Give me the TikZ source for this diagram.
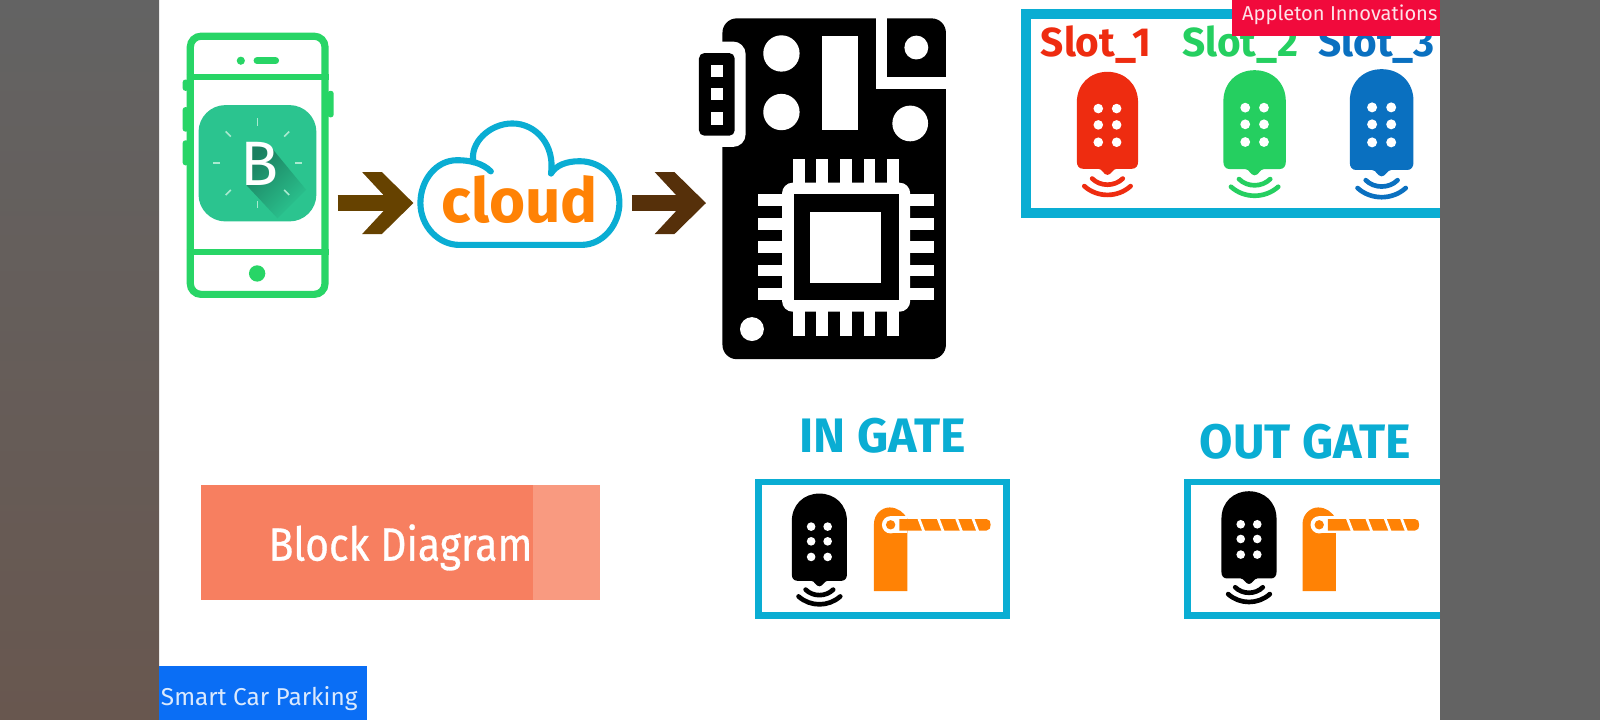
\documentclass[tikz,border=0pt]{standalone}
\usepackage{fontspec}
\setmainfont{Fira Sans}
\newfontfamily\blockfont[FakeStretch=0.875,FakeBold=0.6]{Fira Sans}
\usetikzlibrary{positioning}
\newcommand{\un}{0.02cm}
\definecolor{sidegray}{HTML}{636363}
\definecolor{sidemid}{HTML}{646160}
\definecolor{sidebrown}{HTML}{68574F}
\definecolor{phonegreen}{HTML}{28D566}
\definecolor{icongreen}{HTML}{2BC48F}
\definecolor{shadegreen}{HTML}{1B7F60}
\definecolor{raygreen}{HTML}{A9EAD0}
\definecolor{skyblue}{HTML}{0AADD3}
\definecolor{gateorange}{HTML}{FF8205}
\definecolor{arrowone}{HTML}{664200}
\definecolor{arrowtwo}{HTML}{56300A}
\definecolor{slotred}{HTML}{EE2C10}
\definecolor{slotgreen}{HTML}{25CF60}
\definecolor{slotblue}{HTML}{0A70C0}
\definecolor{labelred}{HTML}{F10A3C}
\definecolor{labelblue}{HTML}{0A6EF5}
\definecolor{blockdark}{HTML}{F77F60}
\definecolor{blocklight}{HTML}{F99A80}
\pgfdeclarearrow{name=Chevy,
	setup code={\pgfarrowssettipend{0pt}\pgfarrowssetlineend{-10pt}\pgfarrowssetvisualbackend{-28.6pt}\pgfarrowssetbackend{-28.6pt}},
	drawing code={
		\pgfpathmoveto{\pgfqpoint{0pt}{0pt}}
		\pgfpathlineto{\pgfqpoint{-17.6pt}{17.3pt}}
		\pgfpathlineto{\pgfqpoint{-28.6pt}{17.3pt}}
		\pgfpathlineto{\pgfqpoint{-12.5pt}{0pt}}
		\pgfpathlineto{\pgfqpoint{-28.6pt}{-17.3pt}}
		\pgfpathlineto{\pgfqpoint{-17.6pt}{-17.3pt}}
		\pgfpathclose
		\pgfusepathqfill}}
\tikzset{
	blockarrow/.style={-Chevy,line width=8.5pt},
	gatebox/.style={draw=skyblue,line width=3.7pt},
	gatetitle/.style={text=skyblue,anchor=base,inner sep=0pt,font=\fontsize{27}{29}\selectfont\bfseries},
	slottitle/.style={anchor=base,inner sep=0pt,font=\fontsize{22.6}{25}\selectfont\bfseries},
	fob/.pic={
		\fill[#1] (-30,30) .. controls (-30,12) and (-17,0) .. (0,0) .. controls (17,0) and (30,12) .. (30,30)
			-- (30,88) .. controls (30,92) and (28,95) .. (24,95) -- (9,95) .. controls (5,95) and (4,101) .. (0,101)
			.. controls (-4,101) and (-5,95) .. (-9,95) -- (-24,95) .. controls (-28,95) and (-30,92) .. (-30,88) -- cycle;
		\foreach \dotx in {-9,9}
			\foreach \doty in {36,52,69}
				\fill[white] (\dotx,\doty) circle (4.7);
		\draw[#1,line width=2.6pt,line cap=round] (-15,104.6) .. controls (-7,112.6) and (7,112.6) .. (15,104.6);
		\draw[#1,line width=2.6pt,line cap=round] (-22.7,112) .. controls (-10,123.5) and (10,123.5) .. (22.7,112);
	},
	barrier/.pic={
		\fill[gateorange] (-16.3,65) -- (-16.3,-1) .. controls (-16.3,-10) and (-9,-17) .. (-1,-17)
			.. controls (7,-17) and (13,-12) .. (16.4,-6) -- (16.4,65) -- cycle;
		\fill[white] (0,-8.5) rectangle (16.4,8.5);
		\fill[white] (0,0) circle (8.5);
		\fill[gateorange] (8.5,-5.6) -- (94,-5.6) .. controls (97,-5.6) and (98,-3) .. (98,0)
			.. controls (98,3) and (97,5.6) .. (94,5.6) -- (8.5,5.6) -- cycle;
		\fill[gateorange] (0,0) circle (4.6);
		\foreach \gapx in {30,49,67,83}
			\draw[white,line width=1.5pt] (\gapx-2.5,-6.5) -- (\gapx+2.5,6.5);
	}
}
\begin{document}
\begin{tikzpicture}[x=\un,y=-\un]
	\useasboundingbox (0,0) rectangle (1568,705.6);
	\fill[white] (0,0) rectangle (1568,705.6);

	\node[draw=phonegreen,line width=4pt,rounded corners=6pt,minimum width={132*\un},minimum height={253*\un}] (phone) at (252.5,162) {};
	\draw[phonegreen,line width=3.4pt] (phone.west |- 0,75.7) -- (phone.east |- 0,75.7);
	\draw[phonegreen,line width=3.4pt] (phone.west |- 0,247) -- (phone.east |- 0,247);
	\fill[phonegreen] (236,59.5) circle (4);
	\draw[phonegreen,line width=4pt,line cap=round] (252,59.5) -- (270,59.5);
	\fill[phonegreen] (252,268) circle (8);
	\fill[phonegreen,rounded corners=1.5pt] (179,78) rectangle (185,89);
	\fill[phonegreen,rounded corners=1.5pt] (179,105) rectangle (185,129);
	\fill[phonegreen,rounded corners=1.5pt] (179,137.5) rectangle (185,162);
	\fill[phonegreen,rounded corners=1.5pt] (321,89) rectangle (327,115);
	\node[fill=icongreen,rounded corners=15pt,minimum width={115.5*\un},minimum height={114*\un}] (icon) at (252.3,160) {};
	\shade[top color=shadegreen,bottom color=icongreen,shading angle=45] (242,142) -- (264,142) -- (272,152) -- (300,186) -- (272,214) -- (242,182) -- cycle;
	\foreach \rayangle in {0,45,...,315}
		\draw[raygreen,line width=0.9pt] (252.3,160) ++(\rayangle:37) -- ++(\rayangle:7);
	\node[text=white,inner sep=0pt,anchor=base,font=\fontsize{35}{37}\selectfont] (blynk) at (254,182) {B};

	\node[text=gateorange,inner sep=0pt,minimum width={200*\un},text depth=4pt,font=\fontsize{34.5}{36}\selectfont\bfseries] (cloud) at (509.5,199) {cloud};
	\draw[skyblue,line width=3.4pt,line cap=round] (481,168) .. controls (473,160) and (461,157) .. (448,157)
		.. controls (427,157) and (412,177) .. (412,199) .. controls (412,222) and (430,240) .. (450,240)
		-- (570,240) .. controls (591,240) and (607,220) .. (607,199) .. controls (607,175) and (590,158) .. (568,158)
		.. controls (555,158) and (545,162) .. (540,170);
	\draw[skyblue,line width=3.4pt,line cap=round] (540,170) .. controls (544,143) and (526,121) .. (502,121)
		.. controls (480,121) and (460,140) .. (464,159);

	\node[fill=black,rounded corners=8pt,minimum width={219*\un},minimum height={334*\un}] (board) at (817.5,185) {};
	\fill[white] (858,16) rectangle (869,87);
	\fill[white] (858,75.5) rectangle (929,87);
	\fill[white,rounded corners=7pt] (690,40.7) rectangle (730.7,144);
	\fill[white] (690,30) rectangle (708,150);
	\fill[white] (898,46.6) circle (11.7);
	\fill[white] (765.8,52.4) circle (17.8);
	\fill[white] (765.8,109.8) circle (17.8);
	\fill[white] (805.4,35) rectangle (840.5,127);
	\fill[white] (892,121) circle (17.5);
	\fill[white] (736.9,322.5) circle (11.7);
	\fill[black,rounded corners=3pt] (685,52) rectangle (720,133);
	\foreach \padtop in {63.5,86,110}
		\fill[white] (696.6,\padtop) rectangle (709,\padtop+12.3);
	\foreach \pinx in {782.7,805.7,829,852,875} {
		\fill[white] (\pinx-5.7,155.7) rectangle (\pinx+5.7,185);
		\fill[white] (\pinx-5.7,300) rectangle (\pinx+5.7,329);
	}
	\foreach \piny in {196,219.5,242.3,265,288.3} {
		\fill[white] (742.7,\piny-5.7) rectangle (772,\piny+5.7);
		\fill[white] (886,\piny-5.7) rectangle (915,\piny+5.7);
	}
	\fill[white,rounded corners=6pt] (766.4,179) rectangle (892,305.5);
	\fill[black] (777.8,190.6) rectangle (880.7,293.8);
	\fill[white] (794,207.5) rectangle (863.8,277);

	\path[blockarrow]
	(phone.east |- cloud) edge[arrowone,shorten <=5.1pt,shorten >=2.3pt] (cloud)
	(cloud) edge[arrowtwo,shorten <=5.3pt,shorten >=9pt] (board.west |- cloud);

	\draw[draw=skyblue,line width=5.7pt] (1005.5,14) rectangle (1416,209);
	\node[slottitle,text=slotred] (slotone) at (1074,55.7) {Slot\_1};
	\node[slottitle,text=slotgreen] (slottwo) at (1215.5,55.7) {Slot\_2};
	\node[slottitle,text=slotblue] (slotthree) at (1349,55.7) {Slot\_3};
	\pic at (1085.3,70.4) {fob=slotred};
	\pic[scale=1.02] at (1229.5,68.8) {fob=slotgreen};
	\pic[scale=1.04] at (1354,67.8) {fob=slotblue};

	\node[gatetitle] (ingate) at (865,443) {IN GATE};
	\node[gatetitle] (outgate) at (1279.5,449) {OUT GATE};
	\draw[gatebox] (743.5,472.5) rectangle (986.5,603.5);
	\draw[gatebox] (1163.5,472.5) rectangle (1416,603.5);
	\pic[scale=0.9] at (803,483.7) {fob=black};
	\pic[scale=0.9] at (1224,481.4) {fob=black};
	\pic at (872.8,514.3) {barrier};
	\pic at (1292.8,514.3) {barrier};

	\fill[blockdark] (197,475) rectangle (522,588);
	\fill[blocklight] (522,475) rectangle (588,588);
	\node[text=white,inner sep=0pt,anchor=base,font=\fontsize{26}{28}\blockfont\selectfont] (blocktitle) at (392.5,549.4) {Block Diagram};

	\shade[top color=sidegray,middle color=sidemid,bottom color=sidebrown] (0,0) rectangle (156,705.6);
	\fill[sidegray] (1411,0) rectangle (1568,705.6);

	\node[fill=labelred,text=white!88!labelred,inner sep=0pt,minimum width={204*\un},minimum height={35*\un},font=\fontsize{11.2}{13}\selectfont] (applabel) at (1309,17.5) {\hspace*{4.5pt}\raisebox{-1.4pt}[0pt][0pt]{Appleton Innovations}};
	\node[fill=labelblue,text=white!85!labelblue,inner sep=0pt,minimum width={204*\un},minimum height={53*\un},font=\fontsize{13.6}{15}\selectfont] (parklabel) at (258,679.5) {\raisebox{-7pt}[0pt][0pt]{Smart Car Parking}\hspace*{4.5pt}};
\end{tikzpicture}
\end{document}
